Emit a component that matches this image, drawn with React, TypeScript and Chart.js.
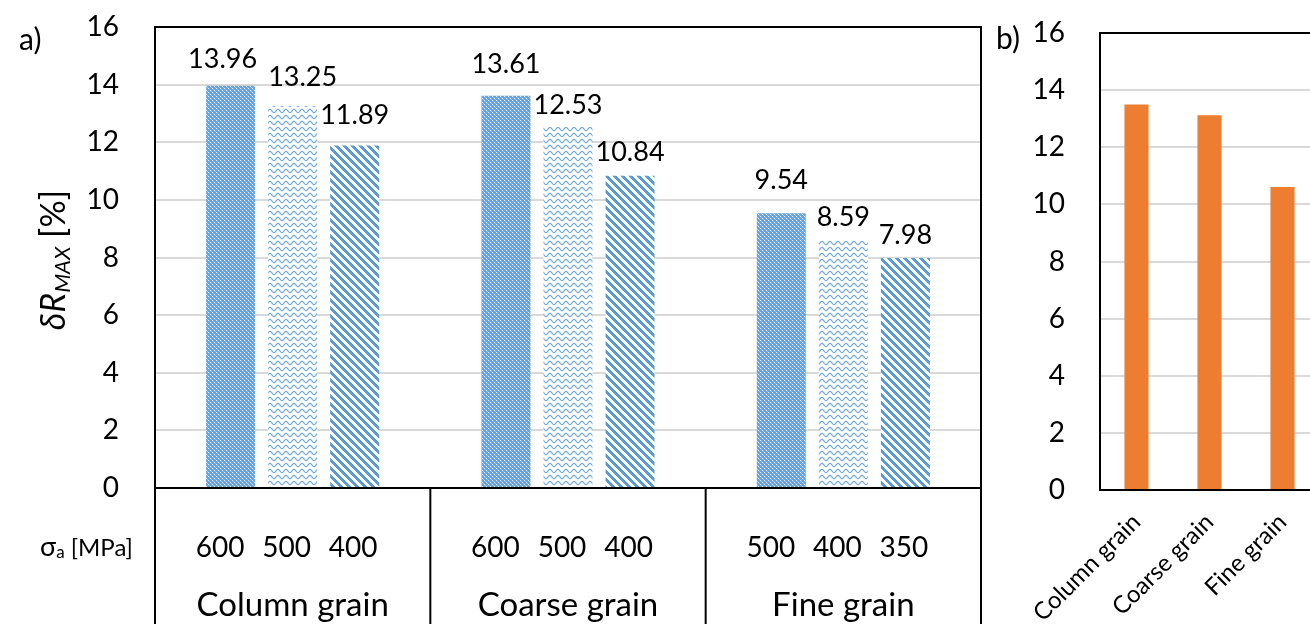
import React, { useEffect, useRef } from "react";
import { Chart, registerables } from "chart.js";

Chart.register(...registerables);

const FONT = "Lato, 'Open Sans', sans-serif";

// ---------- data ----------
const categories = ["Column grain", "Coarse grain", "Fine grain"];
const stressLevels = [
  [600, 500, 400],
  [600, 500, 400],
  [500, 400, 350],
];
const highStressValues = [13.96, 13.61, 9.54];
const midStressValues = [13.25, 12.53, 8.59];
const lowStressValues = [11.89, 10.84, 7.98];
const summaryValues = [13.5, 13.12, 10.61];
const yMin = 0;
const yMax = 16;
const yStep = 2;

// ---------- style (label nudges: [dx, dy] per dataset / category) ----------
const labelNudges = [
  [[-8, 26], [0, 32], [0, 33]],
  [[10, 29], [0, 22], [0, 23]],
  [[0, 30], [0, 23], [0, 23]],
];

const BLUE = "#5B9BD5";
const ORANGE = "#ED7D31";
const GRID = "#D9D9D9";

function makePattern(kind: string): CanvasPattern | string {
  const c = document.createElement("canvas");
  const ctx = c.getContext("2d");
  if (!ctx) return BLUE;
  if (kind === "dots") {
    c.width = 4;
    c.height = 4;
    ctx.fillStyle = "#6AA3DA";
    ctx.fillRect(0, 0, 4, 4);
    ctx.fillStyle = "#E2ECF8";
    ctx.fillRect(0, 0, 1, 1);
    ctx.fillRect(2, 2, 1, 1);
    ctx.fillStyle = "#A3C5E9";
    ctx.fillRect(1, 1, 1, 1);
    ctx.fillRect(3, 3, 1, 1);
  } else if (kind === "waves") {
    c.width = 8;
    c.height = 6;
    ctx.fillStyle = "#FFFFFF";
    ctx.fillRect(0, 0, 8, 6);
    ctx.strokeStyle = "#6FA7DB";
    ctx.lineWidth = 1.2;
    ctx.beginPath();
    for (let x = -1; x <= 9; x += 0.25) {
      const y = 3 + 1.6 * Math.sin((2 * Math.PI * x) / 8);
      if (x === -1) ctx.moveTo(x, y);
      else ctx.lineTo(x, y);
    }
    ctx.stroke();
  } else {
    c.width = 8;
    c.height = 8;
    const img = ctx.createImageData(8, 8);
    for (let y = 0; y < 8; y++) {
      for (let x = 0; x < 8; x++) {
        const k = (((y - x) % 8) + 8) % 8;
        const on = k < 4;
        const idx = (y * 8 + x) * 4;
        img.data[idx] = on ? 0x5b : 255;
        img.data[idx + 1] = on ? 0x9b : 255;
        img.data[idx + 2] = on ? 0xd5 : 255;
        img.data[idx + 3] = 255;
      }
    }
    ctx.putImageData(img, 0, 0);
  }
  const p = ctx.createPattern(c, "repeat");
  return p || BLUE;
}

const valueLabelsPlugin = {
  id: "valueLabels",
  afterDatasetsDraw(chart: any) {
    const ctx = chart.ctx;
    ctx.save();
    ctx.font = `27px ${FONT}`;
    ctx.fillStyle = "#000";
    ctx.textAlign = "center";
    ctx.textBaseline = "middle";
    chart.data.datasets.forEach((ds: any, i: number) => {
      const meta = chart.getDatasetMeta(i);
      meta.data.forEach((bar: any, j: number) => {
        const [dx, dy] = labelNudges[i][j];
        ctx.fillText(Number(ds.data[j]).toFixed(2), bar.x + dx, bar.y - dy);
      });
    });
    ctx.restore();
  },
};

const frameAPlugin = {
  id: "frameA",
  afterDraw(chart: any) {
    const { ctx, chartArea } = chart;
    const { left, right, top, bottom } = chartArea;
    const H = chart.height;
    ctx.save();
    ctx.strokeStyle = "#000";
    ctx.lineWidth = 2;
    ctx.beginPath();
    ctx.moveTo(left, H);
    ctx.lineTo(left, top);
    ctx.lineTo(right, top);
    ctx.lineTo(right, H);
    ctx.moveTo(left, bottom);
    ctx.lineTo(right, bottom);
    const n = categories.length;
    for (let i = 1; i < n; i++) {
      const x = left + (i * (right - left)) / n;
      ctx.moveTo(x, bottom);
      ctx.lineTo(x, H);
    }
    ctx.stroke();

    // stress level row
    const xScale = chart.scales.x;
    ctx.fillStyle = "#000";
    ctx.font = `28px ${FONT}`;
    ctx.textAlign = "center";
    ctx.textBaseline = "middle";
    stressLevels.forEach((lv, i) => {
      ctx.fillText(lv.join("  \u2009"), xScale.getPixelForTick(i) - 6, 548);
    });

    // sigma label
    ctx.textAlign = "left";
    let x = 40;
    ctx.font = `27px ${FONT}`;
    ctx.fillText("σ", x, 547);
    x += ctx.measureText("σ").width;
    ctx.font = `17px ${FONT}`;
    ctx.fillText("a", x, 553);
    x += ctx.measureText("a").width;
    ctx.font = `24px ${FONT}`;
    ctx.fillText(" [MPa]", x, 548);

    // panel letter
    ctx.font = `30px ${FONT}`;
    ctx.fillText("a)", 19, 40);

    // y-axis title
    ctx.translate(57, 260);
    ctx.rotate(-Math.PI / 2);
    const parts = [
      { t: "δR", f: `italic 34px ${FONT}`, dy: 0 },
      { t: "MAX", f: `italic 22px ${FONT}`, dy: 9 },
      { t: " [%]", f: `34px ${FONT}`, dy: 0 },
    ];
    let total = 0;
    parts.forEach((p) => {
      ctx.font = p.f;
      total += ctx.measureText(p.t).width;
    });
    let cx = -total / 2;
    parts.forEach((p) => {
      ctx.font = p.f;
      ctx.fillText(p.t, cx, p.dy - 3);
      cx += ctx.measureText(p.t).width;
    });
    ctx.restore();
  },
};

const frameBPlugin = {
  id: "frameB",
  afterDraw(chart: any) {
    const { ctx, chartArea } = chart;
    const { left, right, top, bottom } = chartArea;
    ctx.save();
    ctx.strokeStyle = "#000";
    ctx.lineWidth = 2;
    ctx.strokeRect(left, top, right - left, bottom - top);
    ctx.fillStyle = "#000";
    ctx.font = `30px ${FONT}`;
    ctx.textAlign = "left";
    ctx.textBaseline = "middle";
    ctx.fillText("b)", 11, 39);
    ctx.restore();
  },
};

function yAxis(width: number, gap: number) {
  return {
    min: yMin,
    max: yMax,
    ticks: {
      stepSize: yStep,
      color: "#000",
      padding: 0,
      font: { family: FONT, size: 28 },
    },
    grid: {
      color: GRID,
      lineWidth: 2,
      drawTicks: true,
      tickLength: gap,
      tickColor: "rgba(0,0,0,0)",
    },
    border: { display: false },
    afterFit: (s: any) => {
      s.width = width;
    },
  };
}

function xAxis(height: number, gap: number, size: number, rotation: number) {
  return {
    ticks: {
      color: "#000",
      padding: 0,
      font: { family: FONT, size },
      minRotation: rotation,
      maxRotation: rotation,
      autoSkip: false,
    },
    grid: {
      display: true,
      drawOnChartArea: false,
      drawTicks: true,
      tickLength: gap,
      tickColor: "rgba(0,0,0,0)",
    },
    border: { display: false },
    afterFit: (s: any) => {
      s.height = height;
    },
  };
}

export default function App() {
  const refA = useRef<HTMLCanvasElement | null>(null);
  const refB = useRef<HTMLCanvasElement | null>(null);

  useEffect(() => {
    if (!refA.current || !refB.current) return;
    const chartA = new Chart(refA.current, {
      type: "bar",
      data: {
        labels: categories,
        datasets: [
          { label: "high", data: highStressValues, backgroundColor: makePattern("dots") as any },
          { label: "mid", data: midStressValues, backgroundColor: makePattern("waves") as any },
          { label: "low", data: lowStressValues, backgroundColor: makePattern("stripes") as any },
        ],
      },
      options: {
        responsive: false,
        animation: false,
        layout: { padding: { top: 27, right: 9, left: 0, bottom: 0 } },
        datasets: { bar: { categoryPercentage: 0.676, barPercentage: 0.79 } },
        plugins: { legend: { display: false }, tooltip: { enabled: false } },
        scales: {
          x: xAxis(136, 98, 33, 0) as any,
          y: yAxis(155, 36) as any,
        },
      },
      plugins: [valueLabelsPlugin, frameAPlugin],
    });

    const chartB = new Chart(refB.current, {
      type: "bar",
      data: {
        labels: categories,
        datasets: [{ label: "summary", data: summaryValues, backgroundColor: ORANGE }],
      },
      options: {
        responsive: false,
        animation: false,
        layout: { padding: { top: 33, right: 11, left: 0, bottom: 0 } },
        datasets: { bar: { categoryPercentage: 1, barPercentage: 0.33 } },
        plugins: { legend: { display: false }, tooltip: { enabled: false } },
        scales: {
          x: xAxis(134, 18, 24, 45) as any,
          y: yAxis(115, 35) as any,
        },
      },
      plugins: [frameBPlugin],
    });

    return () => {
      chartA.destroy();
      chartB.destroy();
    };
  }, []);

  return (
    <div
      style={{
        position: "fixed",
        left: 0,
        top: 0,
        width: 1310,
        height: 624,
        overflow: "hidden",
        background: "#fff",
      }}
    >
      <canvas
        ref={refA}
        width={990}
        height={624}
        style={{ position: "absolute", left: 0, top: 0 }}
      />
      <canvas
        ref={refB}
        width={345}
        height={624}
        style={{ position: "absolute", left: 985, top: 0 }}
      />
    </div>
  );
}
